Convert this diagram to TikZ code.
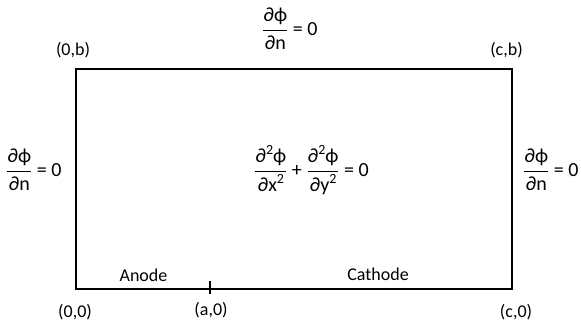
\documentclass[tikz,border=0pt]{standalone}
\usepackage{amsmath}
\usepackage{fontspec}
\setmainfont{Carlito}
\newcommand{\pdfrac}[2]{$\dfrac{\mbox{\rule[-4pt]{0pt}{4pt}#1}}{\mbox{#2}}$}
\newcommand{\sqd}{\raisebox{0.42em}{\fontsize{14}{14}\selectfont 2}}
\tikzset{
    lbl/.style={inner sep=0pt, font=\fontsize{18}{20}\selectfont},
    eqn/.style={inner sep=0pt, anchor=west, font=\fontsize{20}{22}\selectfont}
}
\begin{document}
\begin{tikzpicture}[x=1pt, y=-1pt]
    \useasboundingbox (0,0) rectangle (581,324);
    % Esquinas del dominio
    \coordinate (O) at (76,289);
    \coordinate (B) at (76,69);
    \coordinate (CB) at (512,69);
    \coordinate (C) at (512,289);
    \coordinate (A) at (210,289);
    
    % Contorno rectangular
    \draw[line width=1.3pt, line cap=rect] (O) -- (B) -- (CB) -- (C) -- cycle;
    
    % Marca del punto (a,0)
    \draw[line width=1.3pt] (A) ++(0,-8) -- ++(0,13);
    
    % Condiciones de contorno
    \node[eqn] (topbc) at (262,29) {\pdfrac{∂ϕ}{∂n} = 0};
    \node[eqn] (leftbc) at (6,170) {\pdfrac{∂ϕ}{∂n} = 0};
    \node[eqn] (rightbc) at (523,170) {\pdfrac{∂ϕ}{∂n} = 0};
    
    % Ecuacion de Laplace
    \node[eqn] (laplace) at (254,170)
        {\pdfrac{∂\sqd ϕ}{∂x\sqd} + \pdfrac{∂\sqd ϕ}{∂y\sqd} = 0};
    
    % Electrodos
    \node[lbl] (anode) at (143.5,275) {Anode};
    \node[lbl] (cathode) at (378,274) {Cathode};
    
    % Coordenadas de las esquinas
    \node[lbl] (lab0b) at (73,50) {(0,b)};
    \node[lbl] (labcb) at (506.5,50) {(c,b)};
    \node[lbl] (lab00) at (75,312) {(0,0)};
    \node[lbl] (laba0) at (211,310) {(a,0)};
    \node[lbl] (labc0) at (516,312) {(c,0)};
\end{tikzpicture}
\end{document}
